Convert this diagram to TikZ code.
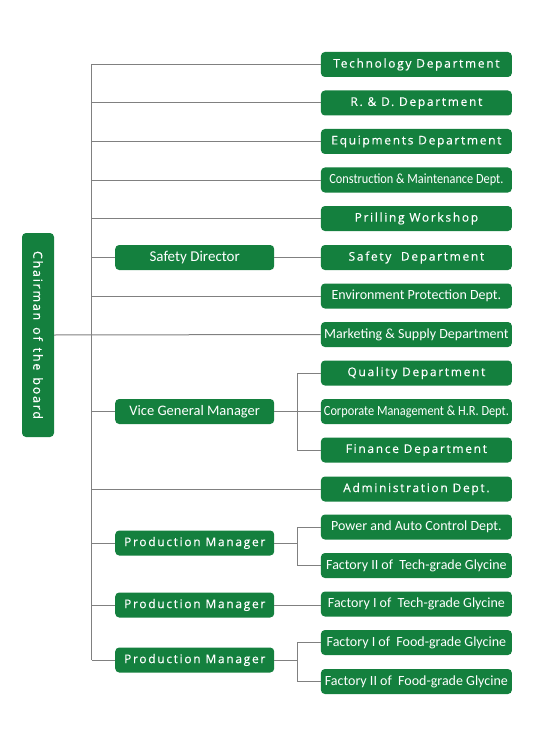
\documentclass[tikz,border=0pt]{standalone}
\usepackage{fontspec}
\newfontfamily\widefont[LetterSpace=14, FakeBold=0.3]{Open Sans}
\newfontfamily\narrowfont{Carlito}
\newfontfamily\tightfont[FakeStretch=0.88]{Carlito}
\definecolor{boxgreen}{RGB}{20,128,62}
\definecolor{linegray}{RGB}{128,128,128}
\newcommand{\gap}{\hspace{7pt}}

\begin{document}
\begin{tikzpicture}[x=1pt, y=-1pt,
    every node/.style={fill=boxgreen, text=white, rounded corners=4pt, inner sep=0pt},
    dept/.style={anchor=west, minimum width=191pt, minimum height=25pt},
    head/.style={anchor=west, minimum width=159pt, minimum height=25pt},
    wide/.style={font=\widefont\fontsize{12}{14}\selectfont},
    narrow/.style={font=\narrowfont\fontsize{14}{16}\selectfont},
    tight/.style={font=\tightfont\fontsize{14}{16}\selectfont},
    link/.style={draw=linegray, line width=1pt}]
    \useasboundingbox (0,0) rectangle (536,746);
    % chairman
    \node[font=\widefont\fontsize{12.5}{14}\selectfont, rotate=-90, minimum width=204pt, minimum height=32pt]
      (chair) at (38,335) {Chairman\gap of\gap the\gap board};
    % departments
    \node[dept, wide]   (tech)   at (320.7,64.5)  {Technology Department};
    \node[dept, wide]   (rd)     at (320.7,103)   {R. \& D. Department};
    \node[dept, wide]   (equip)  at (320.7,141.5) {Equipments Department};
    \node[dept, tight]  (constr) at (320.7,180)   {Construction \& Maintenance Dept.};
    \node[dept, wide]   (prill)  at (320.7,218.5) {Prilling Workshop};
    \node[dept, wide]   (safety) at (320.7,257.5) {Safety\ \ Department};
    \node[dept, narrow] (env)    at (320.7,296)   {Environment Protection Dept.};
    \node[dept, narrow] (mkt)    at (320.7,334.5) {Marketing \& Supply Department};
    \node[dept, wide]   (qual)   at (320.7,373)   {Quality Department};
    \node[dept, tight]  (corp)   at (320.7,411.5) {Corporate Management \& H.R. Dept.};
    \node[dept, wide]   (fin)    at (320.7,450)   {Finance Department};
    \node[dept, wide]   (admin)  at (320.7,489)   {Administration Dept.};
    \node[dept, narrow] (power)  at (320.7,527)   {Power and Auto Control Dept.};
    \node[dept, narrow] (tech2)  at (320.7,565.5) {Factory II of\ \ Tech-grade Glycine};
    \node[dept, narrow] (tech1)  at (320.7,604)   {Factory I of\ \ Tech-grade Glycine};
    \node[dept, narrow] (food1)  at (320.7,642.5) {Factory I of\ \ Food-grade Glycine};
    \node[dept, narrow] (food2)  at (320.7,681.5) {Factory II of\ \ Food-grade Glycine};
    % managers
    \node[head, narrow, font=\narrowfont\fontsize{15}{17}\selectfont] (safedir) at (115,257.5) {Safety Director};
    \node[head, narrow, font=\narrowfont\fontsize{14.5}{17}\selectfont] (vgm) at (115,411.5) {Vice General Manager};
    \node[head, wide]   (pm1)     at (115,543)   {Production Manager};
    \node[head, wide]   (pm2)     at (115,605)   {Production Manager};
    \node[head, wide]   (pm3)     at (115,660)   {Production Manager};
    % trunk
    \coordinate (ttop) at (91.7,64.5);
    \coordinate (tbot) at (91.7,660);
    \draw[link] (ttop) -- (tbot);
    \draw[link] (chair.north) -- (mkt.west);
    \foreach \d in {tech,rd,equip,constr,prill,env,admin}
      \draw[link] (\d.west -| ttop) -- (\d.west);
    \foreach \m in {safedir,vgm,pm1,pm2,pm3}
      \draw[link] (\m.west -| ttop) -- (\m.west);
    % branches
    \draw[link] (safedir.east) -- (safety.west);
    \draw[link] (pm2.east) -- (pm2.east -| tech1.west);
    \coordinate (vx) at (297.7,0);
    \draw[link] (vgm.east) -- (corp.west);
    \draw[link] (qual.west) -- (qual.west -| vx) -- (fin.west -| vx) -- (fin.west);
    \draw[link] (pm1.east) -- (pm1.east -| vx);
    \draw[link] (power.west) -- (power.west -| vx) -- (tech2.west -| vx) -- (tech2.west);
    \draw[link] (pm3.east) -- (pm3.east -| vx);
    \draw[link] (food1.west) -- (food1.west -| vx) -- (food2.west -| vx) -- (food2.west);
\end{tikzpicture}
\end{document}
